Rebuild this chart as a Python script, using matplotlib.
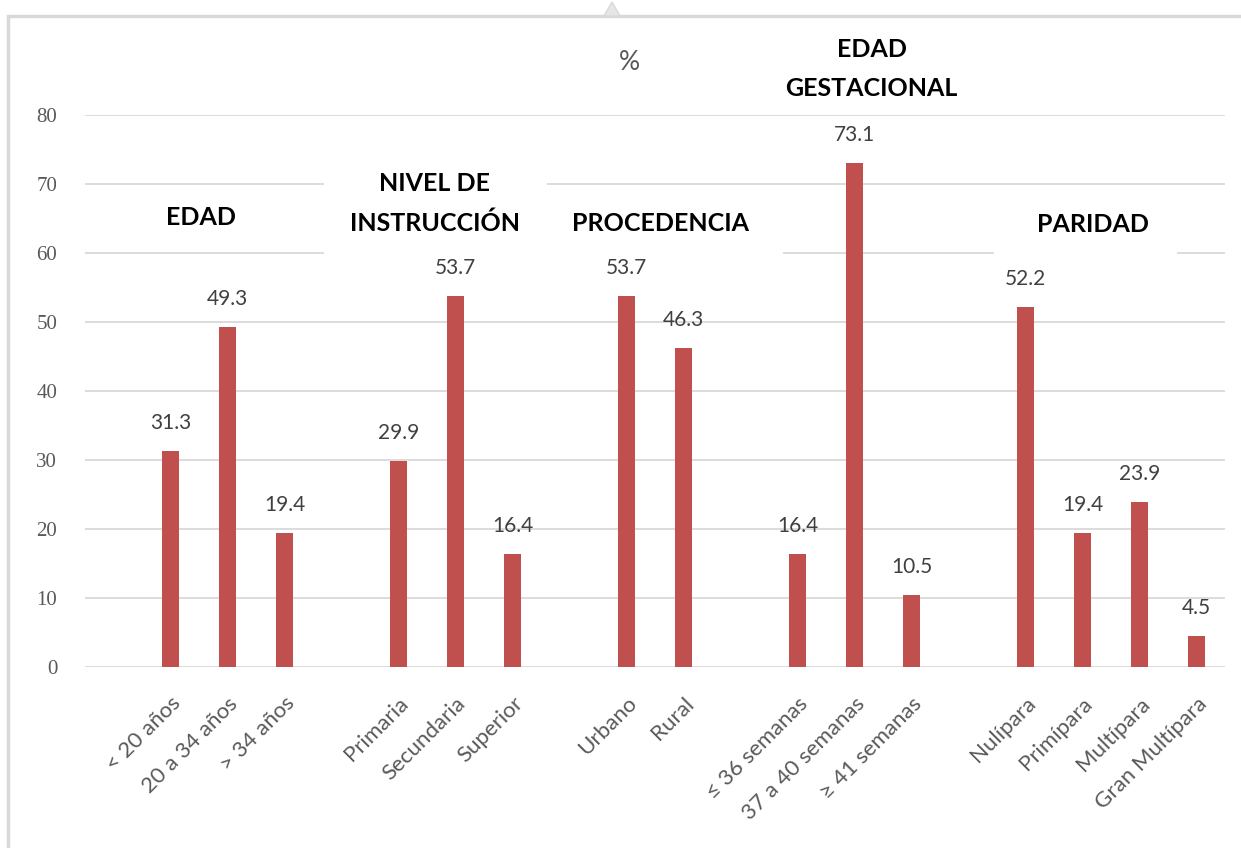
import numpy as np
import matplotlib.pyplot as plt
from matplotlib.patches import Rectangle, Polygon

# datos por grupo (%)
grupos = ['EDAD', 'NIVEL DE\nINSTRUCCIÓN', 'PROCEDENCIA', 'EDAD\nGESTACIONAL', 'PARIDAD']
edad = ['< 20 años', '20 a 34 años', '> 34 años']
edad_val = [31.3, 49.3, 19.4]
instruccion = ['Primaria', 'Secundaria', 'Superior']
instruccion_val = [29.9, 53.7, 16.4]
procedencia = ['Urbano', 'Rural']
procedencia_val = [53.7, 46.3]
gestacional = ['≤ 36 semanas', '37 a 40 semanas', '≥ 41 semanas']
gestacional_val = [16.4, 73.1, 10.5]
paridad = ['Nulípara', 'Primípara', 'Multípara', 'Gran Multípara']
paridad_val = [52.2, 19.4, 23.9, 4.5]

cats = [edad, instruccion, procedencia, gestacional, paridad]
vals = [edad_val, instruccion_val, procedencia_val, gestacional_val, paridad_val]

# posiciones: un hueco vacio antes de cada grupo
x, labels, values = [], [], []
pos = 0
for c, v in zip(cats, vals):
    pos += 1
    for lab, val in zip(c, v):
        x.append(pos)
        labels.append(lab)
        values.append(val)
        pos += 1
x = np.array(x)

rojo = '#C0504D'
gris = '#595959'

fig = plt.figure(figsize=(12.41, 8.48), dpi=100)
ax = fig.add_axes([85/1241, 1-667/848, 1140/1241, 552/848])

ax.bar(x, values, width=0.3, color=rojo, zorder=3)
for xi, v in zip(x, values):
    ax.annotate(f'{v:.1f}', (xi, v), xytext=(0, 18), textcoords='offset pixels',
                ha='center', va='bottom', fontsize=15, family='Lato', color='#404040')

ax.set_xlim(-0.5, pos - 0.5)
ax.set_ylim(0, 80)
ax.set_yticks(np.arange(0, 81, 10))
ax.set_yticklabels([str(t) for t in range(0, 81, 10)], family='Liberation Serif', fontsize=15, color=gris)
ax.set_xticks(x)
ax.set_xticklabels(labels, rotation=45, ha='right', rotation_mode='anchor',
                   family='Lato', fontsize=16, color=gris)
ax.tick_params(axis='y', length=0, pad=20)
ax.tick_params(axis='x', length=0, pad=19)
ax.set_axisbelow(True)
ax.grid(axis='y', color='#d9d9d9', lw=1.3, zorder=0)
for s in ax.spines.values():
    s.set_visible(False)

# cajas blancas de los titulos de grupo (tapan la cuadricula)
cajas = [(0.0, 60.3, 3.2, 9.0), (3.7, 59.0, 3.9, 13.0), (7.6, 59.0, 4.15, 10.2), (15.45, 59.0, 3.2, 10.2)]
for bx, by, bw, bh in cajas:
    ax.add_patch(Rectangle((bx, by), bw, bh, facecolor='white', edgecolor='none', zorder=1))

tit_pos = [(1.53, 65.1), (5.64, 67.2), (9.59, 64.3), (13.3, 86.7), (17.18, 64.2)]
for g, (tx, ty) in zip(grupos, tit_pos):
    ax.text(tx, ty, g, ha='center', va='center', fontsize=18, fontweight='bold',
            family='Lato', color='black', linespacing=1.85, zorder=4, clip_on=False)

fig.text(629/1241, 1-62/848, '%', ha='center', va='center', fontsize=19, family='Lato', color=gris)

# marco exterior
fig.patches.append(Rectangle((8/1241, -0.1), 1.2, 1-16/848+0.1, transform=fig.transFigure,
                             facecolor='none', edgecolor='#d9d9d9', lw=2.5))
fig.patches.append(Polygon([(604/1241, 1-16/848), (612/1241, 1-2/848), (620/1241, 1-16/848)],
                           closed=True, transform=fig.transFigure, facecolor='#e6e6e6', edgecolor='#d9d9d9', lw=1))

fig.savefig('out.png', dpi=100)
